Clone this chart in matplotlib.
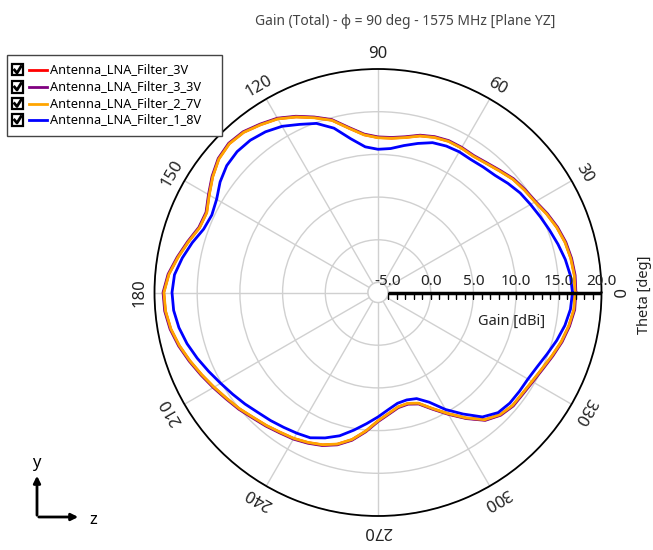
import numpy as np
import matplotlib
matplotlib.use("Agg")
import matplotlib.pyplot as plt
from matplotlib.patches import Rectangle, FancyArrowPatch
from matplotlib.lines import Line2D

plt.rcParams['font.family'] = ['Noto Sans', 'DejaVu Sans']

W, H = 653, 550

# theta in degrees, gain in dBi
theta_deg = list(range(0, 360, 5))

gain_3v = [16.93, 16.93, 16.78, 16.53, 16.13, 15.63, 15.08, 14.78, 14.48, 13.98,
           13.58, 13.33, 13.38, 13.38, 13.18, 12.83, 12.28, 11.98, 11.98, 12.38,
           13.38, 14.73, 15.63, 16.53, 17.33, 17.83, 18.33, 18.48, 18.18, 17.48,
           16.68, 15.98, 16.08, 16.83, 17.63, 18.43, 18.93, 18.83, 18.48, 17.93,
           17.28, 16.63, 16.03, 15.48, 15.03, 14.53, 14.18, 13.83, 13.58, 13.23,
           12.83, 12.23, 11.33, 10.13, 8.88, 8.08, 7.45, 7.30, 7.65, 8.83,
           10.23, 11.78, 13.30, 14.08, 14.43, 14.48, 14.68, 15.03, 15.53, 16.08,
           16.53, 16.88]
gain_3_3v = [17.00, 17.00, 16.85, 16.60, 16.20, 15.70, 15.15, 14.85, 14.55, 14.05,
             13.65, 13.40, 13.45, 13.45, 13.25, 12.90, 12.35, 12.05, 12.05, 12.45,
             13.45, 14.80, 15.70, 16.60, 17.40, 17.90, 18.40, 18.55, 18.25, 17.55,
             16.75, 16.05, 16.15, 16.90, 17.70, 18.50, 19.00, 18.90, 18.55, 18.00,
             17.35, 16.70, 16.10, 15.55, 15.10, 14.60, 14.25, 13.90, 13.65, 13.30,
             12.90, 12.30, 11.40, 10.20, 8.95, 8.15, 7.52, 7.37, 7.72, 8.90,
             10.30, 11.85, 13.37, 14.15, 14.50, 14.55, 14.75, 15.10, 15.60, 16.15,
             16.60, 16.95]
gain_2_7v = [16.90, 16.90, 16.75, 16.50, 16.10, 15.60, 15.05, 14.75, 14.45, 13.95,
             13.55, 13.30, 13.35, 13.35, 13.15, 12.80, 12.25, 11.95, 11.95, 12.35,
             13.35, 14.70, 15.60, 16.50, 17.30, 17.80, 18.30, 18.45, 18.15, 17.45,
             16.65, 15.95, 16.05, 16.80, 17.60, 18.40, 18.90, 18.80, 18.45, 17.90,
             17.25, 16.60, 16.00, 15.45, 15.00, 14.50, 14.15, 13.80, 13.55, 13.20,
             12.80, 12.20, 11.30, 10.10, 8.85, 8.05, 7.42, 7.27, 7.62, 8.80,
             10.20, 11.75, 13.27, 14.05, 14.40, 14.45, 14.65, 15.00, 15.50, 16.05,
             16.50, 16.85]
gain_1_8v = [16.60, 16.45, 16.10, 15.65, 15.20, 14.80, 14.45, 14.15, 13.70, 13.22,
             13.00, 12.82, 12.85, 12.75, 12.50, 11.90, 11.30, 10.75, 10.60, 10.95,
             12.10, 13.75, 14.90, 15.55, 16.30, 16.80, 17.10, 17.16, 16.95, 16.40,
             15.65, 15.30, 15.55, 16.35, 17.10, 17.75, 17.95, 17.85, 17.50, 16.98,
             16.35, 15.70, 15.10, 14.60, 14.15, 13.70, 13.40, 13.10, 12.85, 12.60,
             11.95, 11.20, 10.20, 9.25, 8.40, 7.60, 7.00, 6.85, 7.05, 8.00,
             9.65, 11.20, 12.85, 13.72, 13.98, 14.03, 14.10, 14.40, 14.90, 15.50,
             16.05, 16.45]

series = [
    ("Antenna_LNA_Filter_3V", gain_3v, "#ff0000"),
    ("Antenna_LNA_Filter_3_3V", gain_3_3v, "#800080"),
    ("Antenna_LNA_Filter_2_7V", gain_2_7v, "#ffa500"),
    ("Antenna_LNA_Filter_1_8V", gain_1_8v, "#0000ff"),
]

r_ticks = [-5, 0, 5, 10, 15, 20]
angle_ticks = list(range(0, 360, 30))


def px(x, y):
    return x / W, 1 - y / H


fig = plt.figure(figsize=(W / 100, H / 100), dpi=100)

cx, cy, R = 378, 292.5, 223.5
ax = fig.add_axes([(cx - R) / W, (H - cy - R) / H, 2 * R / W, 2 * R / H],
                  projection='polar')
ax.set_rlim(-5, 20)
ax.set_rorigin(-5 - 10 / ((R - 10) / 25))

th = np.deg2rad(theta_deg + [theta_deg[0]])
for name, g, c in series:
    ax.plot(th, g + [g[0]], color=c, lw=2.0, solid_joinstyle='round')

ax.set_rticks(r_ticks)
ax.set_yticklabels([])
ax.set_thetagrids(angle_ticks, labels=[''] * len(angle_ticks))
ax.grid(True, color='#d0d0d0', lw=1.0)
ax.spines['polar'].set_color('black')
ax.spines['polar'].set_linewidth(1.3)
ax.spines['inner'].set_color('#d0d0d0')
ax.spines['inner'].set_linewidth(1.0)
ax.tick_params(axis='x', direction='inout', length=6, width=1.0, colors='black')

# angle labels around the rim
for a in angle_ticks:
    d = 4.7
    ax.annotate(str(a), xy=(np.deg2rad(a), 20),
                xytext=(d * np.cos(np.deg2rad(a)), d * np.sin(np.deg2rad(a))),
                textcoords='offset points', rotation=a - 90,
                rotation_mode='anchor', ha='center', va='bottom',
                fontsize=12, color='#222222', annotation_clip=False)

# gain scale along theta = 0
ax.plot([0, 0], [-5, 20], color='black', lw=2.5, solid_capstyle='butt', zorder=5)
ax.plot(np.zeros(26), np.arange(-5, 21), ls='none', marker=3, ms=4, mew=1.0,
        color='black', zorder=5)
for r in r_ticks:
    ax.annotate(f"{r:.1f}", xy=(0, r), xytext=(0, 2.5), textcoords='offset points',
                ha='center', va='bottom', fontsize=11, color='#222222', zorder=6,
                annotation_clip=False)

fig.text(*px(512, 321), "Gain [dBi]", ha='center', va='center', fontsize=10.5,
         color='#222222')
fig.text(*px(645, 295), "Theta [deg]", ha='center', va='center', rotation=90,
         fontsize=10.5, color='#222222')
fig.text(*px(405, 21.5), "Gain (Total) - φ = 90 deg - 1575 MHz [Plane YZ]",
         ha='center', va='center', fontsize=10, color='#444444')

# legend box with check marks
x0, y0 = px(7, 136)
x1, y1 = px(222, 55)
fig.patches.append(Rectangle((x0, y0), x1 - x0, y1 - y0, transform=fig.transFigure,
                             facecolor='white', edgecolor='#444444', lw=1.0))
row_y = [70, 87, 103.5, 120]
for (name, g, c), yy in zip(series, row_y):
    bx, by = px(12, yy + 5.5)
    fig.patches.append(Rectangle((bx, by), 11 / W, 11 / H, transform=fig.transFigure,
                                 facecolor='white', edgecolor='black', lw=1.6))
    fig.add_artist(Line2D([px(14.5, yy)[0], px(17, yy + 3)[0], px(21, yy - 3.5)[0]],
                          [px(14.5, yy)[1], px(17, yy + 3)[1], px(21, yy - 3.5)[1]],
                          color='black', lw=2.0, transform=fig.transFigure))
    fig.add_artist(Line2D([29 / W, 47 / W], [1 - yy / H, 1 - yy / H], color=c, lw=2.0,
                          transform=fig.transFigure))
    fig.text(*px(50, yy), name, ha='left', va='center', fontsize=9.2, color='black')

# coordinate indicator
fig.add_artist(FancyArrowPatch(px(37, 518), px(37, 473),
               transform=fig.transFigure, arrowstyle='-|>', mutation_scale=10,
               lw=2.0, color='black'))
fig.add_artist(FancyArrowPatch(px(36, 517), px(81, 517),
               transform=fig.transFigure, arrowstyle='-|>', mutation_scale=10,
               lw=2.0, color='black'))
fig.text(*px(36, 463), "y", ha='center', va='center', fontsize=12, color='black')
fig.text(*px(93, 520), "z", ha='center', va='center', fontsize=12, color='black')

fig.savefig("out.png", dpi=100)
